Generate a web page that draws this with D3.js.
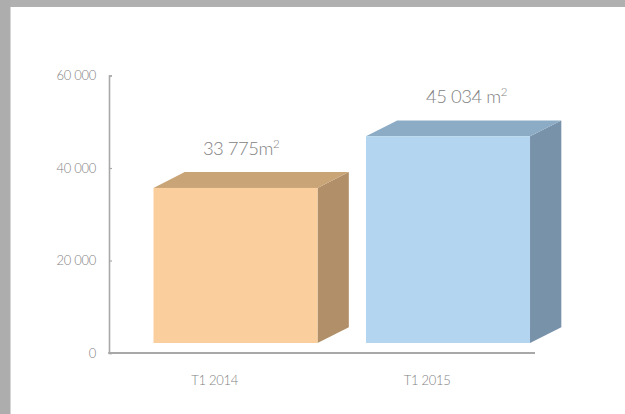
<!DOCTYPE html>
<html>
<head>
<meta charset="utf-8">
<script src="https://cdn.jsdelivr.net/npm/d3@7"></script>
<style>
  html, body { margin: 0; padding: 0; background: #ffffff; }
  svg { display: block; }
  text { font-family: Lato, "Open Sans", "DejaVu Sans", sans-serif; font-weight: 300; }
</style>
</head>
<body>
<svg id="chart" width="625" height="414"></svg>
<script>
// ---- data ----
const categories = ["T1 2014", "T1 2015"];
const values = [33775, 45034];
const valueLabels = ["33 775", "45 034"];
const valueUnitSpace = ["", " "];
const yTicks = [0, 20000, 40000, 60000];
const yTickLabels = ["0", "20 000", "40 000", "60 000"];

// ---- colours ----
const frontColors = ["#fbcf9d", "#b4d5ef"];
const topColors = ["#c9a477", "#8cabc5"];
const sideColors = ["#b08f69", "#7892aa"];

const svg = d3.select("#chart");
const W = 625, H = 414;

// gray frame (top and left)
svg.append("rect").attr("x", 0).attr("y", 0).attr("width", W).attr("height", 7).attr("fill", "#b0b0b0");
svg.append("rect").attr("x", 0).attr("y", 0).attr("width", 10.5).attr("height", H).attr("fill", "#adadad");

// scales
const yAxisScale = d3.scaleLinear().domain([0, 60000]).range([353, 75.5]);
const yFront = d3.scaleLinear().domain([0, 60000]).range([343, 67.5]);
const x = d3.scaleBand().domain(categories).range([130.1, 553.4]).paddingInner(0.228).paddingOuter(0.11);
const depthX = 31.3, depthY = -15.8;

const axisColor = "#a8a8a8";
const textColor = "#828282";

// y axis
const yAxis = d3.axisLeft(yAxisScale).tickValues(yTicks).tickSize(-3).tickPadding(13)
  .tickFormat((d, i) => yTickLabels[i]);
const yg = svg.append("g").attr("transform", "translate(109,0)").call(yAxis);
yg.select(".domain").attr("stroke", axisColor).attr("stroke-width", 1.6);
yg.selectAll(".tick line").attr("stroke", axisColor).attr("stroke-width", 1.2);
yg.selectAll(".tick text").attr("fill", textColor).attr("font-size", 13).attr("letter-spacing", -0.3)
  .attr("font-family", "Lato, sans-serif").attr("font-weight", 300);

// x axis line
svg.append("line").attr("x1", 108.2).attr("x2", 535).attr("y1", 353).attr("y2", 353)
  .attr("stroke", axisColor).attr("stroke-width", 1.8);

// x labels
svg.selectAll("text.xlab").data(categories).join("text")
  .attr("class", "xlab")
  .attr("x", d => x(d) + x.bandwidth() / 2 - 20.8)
  .attr("y", 385)
  .attr("text-anchor", "middle")
  .attr("font-size", 13)
  .attr("letter-spacing", -0.3)
  .attr("fill", textColor)
  .text(d => d);

// bars
const bars = svg.selectAll("g.bar").data(categories.map((c, i) => ({ c, v: values[i], i })))
  .join("g").attr("class", "bar");

bars.each(function (d) {
  const g = d3.select(this);
  const x0 = x(d.c), x1 = x(d.c) + x.bandwidth();
  const y0 = yFront(0), y1 = yFront(d.v);
  // side face
  g.append("path")
    .attr("d", `M${x1},${y1}L${x1 + depthX},${y1 + depthY}L${x1 + depthX},${y0 + depthY}L${x1},${y0}Z`)
    .attr("fill", sideColors[d.i]);
  // top face
  g.append("path")
    .attr("d", `M${x0},${y1}L${x0 + depthX},${y1 + depthY}L${x1 + depthX},${y1 + depthY}L${x1},${y1}Z`)
    .attr("fill", topColors[d.i]);
  // front face
  g.append("rect")
    .attr("x", x0).attr("y", y1).attr("width", x1 - x0).attr("height", y0 - y1)
    .attr("fill", frontColors[d.i]);
});

// value labels
const labelNudge = [5.5, 18.5];
const vl = svg.selectAll("text.vlab").data(categories.map((c, i) => ({ c, v: values[i], i })))
  .join("text")
  .attr("class", "vlab")
  .attr("x", d => x(d.c) + x.bandwidth() / 2 + labelNudge[d.i])
  .attr("y", d => yFront(d.v) - 33)
  .attr("text-anchor", "middle")
  .attr("font-size", 18.5)
  .attr("letter-spacing", -0.5)
  .attr("fill", textColor);
vl.append("tspan").text(d => valueLabels[d.i] + valueUnitSpace[d.i] + "m");
vl.append("tspan").attr("dy", -7).attr("font-size", 11.5).text("2");
</script>
</body>
</html>
